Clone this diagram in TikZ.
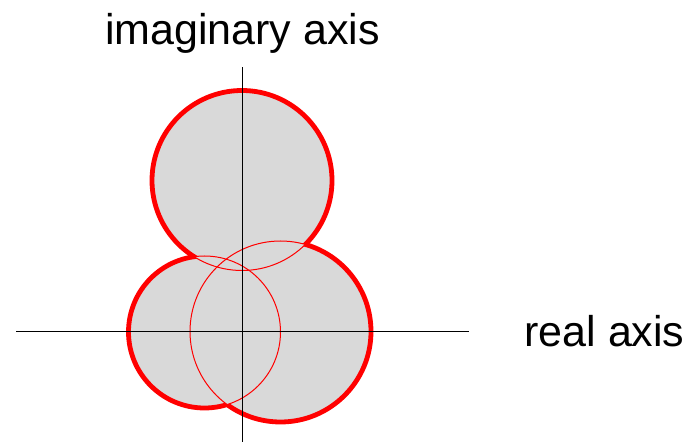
\documentclass[tikz,border=0pt]{standalone}
\usepackage{fontspec}
\setmainfont{Liberation Sans}
\usetikzlibrary{positioning}
\definecolor{discgray}{RGB}{217,217,217}
\definecolor{discred}{RGB}{255,0,0}

\begin{document}
\begin{tikzpicture}[x=0.5pt,y=-0.5pt,font=\fontsize{21.5}{26}\selectfont,
  thin disc/.style={draw=discred, line width=0.5pt},
  thick disc/.style={draw=discred, line width=2.4pt},
  axis/.style={draw=black, line width=0.5pt}]
\useasboundingbox (0,0) rectangle (685,442);
% discs: centre x / centre y / radius
\def\discs{242/180.5/90, 204.5/332/76, 280.5/331.5/90.5}
\foreach \cx/\cy/\r in \discs
  \fill[discgray] (\cx,\cy) circle (\r);
\foreach \cx/\cy/\r in \discs
  \path[thin disc] (\cx,\cy) circle (\r);
% outline of the union
\begin{scope}[even odd rule]
  \clip (0,0) rectangle (685,442) (204.5,332) circle (76);
  \clip (0,0) rectangle (685,442) (280.5,331.5) circle (90.5);
  \path[thick disc] (242,180.5) circle (90);
\end{scope}
\begin{scope}[even odd rule]
  \clip (0,0) rectangle (685,442) (242,180.5) circle (90);
  \clip (0,0) rectangle (685,442) (280.5,331.5) circle (90.5);
  \path[thick disc] (204.5,332) circle (76);
\end{scope}
\begin{scope}[even odd rule]
  \clip (0,0) rectangle (685,442) (242,180.5) circle (90);
  \clip (0,0) rectangle (685,442) (204.5,332) circle (76);
  \path[thick disc] (280.5,331.5) circle (90.5);
\end{scope}
% axes
\coordinate (re-left) at (16,331.7);
\coordinate (re-right) at (469,331.7);
\coordinate (im-bottom) at (242.5,442);
\coordinate (im-top) at (242.5,67);
\path[axis] (re-left) -- (re-right);
\path[axis] (im-bottom) -- (im-top);
\node[anchor=base] (im-label) at (242.5,45) {imaginary axis};
\node[anchor=base west, inner sep=0pt] (re-label) at (524,347) {real axis};
\end{tikzpicture}
\end{document}
